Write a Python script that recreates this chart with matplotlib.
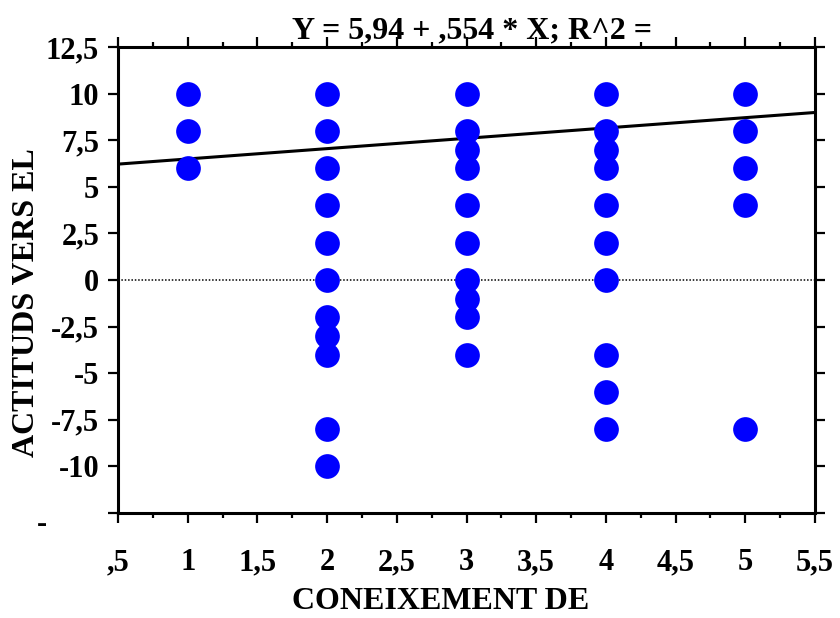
import matplotlib
matplotlib.use('Agg')
import matplotlib.pyplot as plt
import numpy as np
from matplotlib.ticker import MultipleLocator, FixedLocator

# knowledge score (x) and attitude score (y)
x_vals = [1, 1, 1,
          2, 2, 2, 2, 2, 2, 2, 2, 2, 2, 2,
          3, 3, 3, 3, 3, 3, 3, 3, 3, 3,
          4, 4, 4, 4, 4, 4, 4, 4, 4, 4,
          5, 5, 5, 5, 5]
y_vals = [10, 8, 6,
          10, 8, 6, 4, 2, 0, -2, -3, -4, -8, -10,
          10, 8, 7, 6, 4, 2, 0, -1, -2, -4,
          10, 8, 7, 6, 4, 2, 0, -4, -6, -8,
          10, 8, 6, 4, -8]

intercept = 5.94
slope = 0.554

x_ticks = [0.5, 1, 1.5, 2, 2.5, 3, 3.5, 4, 4.5, 5, 5.5]
x_tick_labels = [',5', '1', '1,5', '2', '2,5', '3', '3,5', '4', '4,5', '5', '5,5']
y_ticks = [-12.5, -10, -7.5, -5, -2.5, 0, 2.5, 5, 7.5, 10, 12.5]
y_tick_labels = ['', '-10', '-7,5', '-5', '-2,5', '0', '2,5', '5', '7,5', '10', '12,5']

title = 'Y = 5,94 + ,554 * X; R^2 ='
x_label = 'CONEIXEMENT DE'
y_label = 'ACTITUDS VERS EL'

plt.rcParams['font.family'] = ['Liberation Serif', 'DejaVu Serif']
plt.rcParams['font.weight'] = 'bold'

fig = plt.figure(figsize=(8.4, 6.18), dpi=100)
ax = fig.add_axes([118 / 840, 1 - 513 / 618, (815 - 118) / 840, (513 - 47) / 618])

ax.set_xlim(0.5, 5.5)
ax.set_ylim(-12.5, 12.5)

ax.axhline(0, color='black', lw=1.1, ls=(0, (1, 1.2)), zorder=1)

xs = np.array([0.5, 5.5])
ax.plot(xs, intercept + slope * xs, color='black', lw=2.2, zorder=2,
        solid_capstyle='butt')

ax.plot(x_vals, y_vals, 'o', color='#0000ff', markersize=17.8,
        markeredgewidth=0, zorder=3, clip_on=False)

for s in ax.spines.values():
  s.set_linewidth(2.2)

ax.xaxis.set_major_locator(FixedLocator(x_ticks))
ax.xaxis.set_minor_locator(MultipleLocator(0.25))
ax.set_xticklabels(x_tick_labels)
ax.yaxis.set_major_locator(FixedLocator(y_ticks))
ax.set_yticklabels(y_tick_labels)

ax.tick_params(axis='both', which='major', direction='out', length=7.5,
               width=1.6, labelsize=22, top=True, right=True)
ax.tick_params(axis='x', which='minor', direction='out', length=3.8,
               width=1.6, top=True)
ax.tick_params(axis='x', which='major', pad=18)
ax.tick_params(axis='y', which='major', pad=6)
for lbl in ax.get_xticklabels() + ax.get_yticklabels():
  lbl.set_fontweight('bold')

fig.text(472 / 840, 1 - 38 / 618, title, ha='center', va='baseline',
         fontsize=23, fontweight='bold')
fig.text(441 / 840, 1 - 609 / 618, x_label, ha='center', va='baseline',
         fontsize=23, fontweight='bold')
fig.text(27 / 840, 1 - 303 / 618, y_label, ha='center', va='center',
         rotation=90, fontsize=23, fontweight='bold')
fig.text(42 / 840, 1 - 524 / 618, '-', ha='center', va='center',
         fontsize=22, fontweight='bold')

fig.savefig('out.png', dpi=100)
